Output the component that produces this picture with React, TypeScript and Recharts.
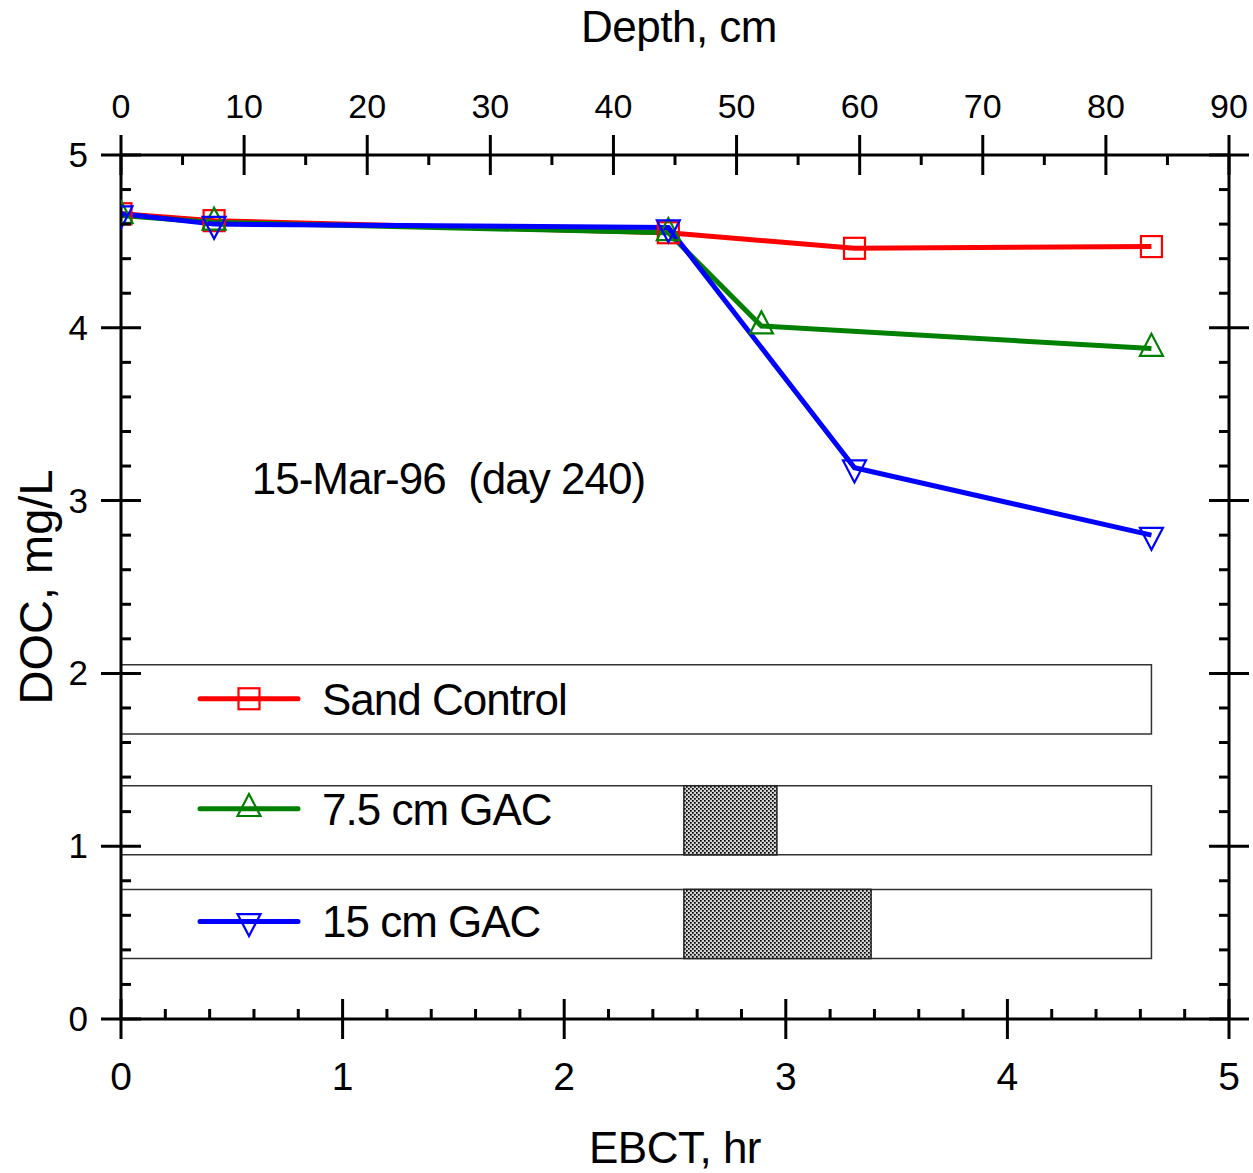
import React from 'react';
import { LineChart, Line, XAxis, YAxis, ReferenceArea, ReferenceDot } from 'recharts';

// DOC profiles along the filter columns (EBCT in hours, DOC in mg/L)
const sandEbct = [0, 0.42, 2.47, 3.31, 4.65];
const sandDoc = [4.66, 4.62, 4.55, 4.46, 4.47];
const gac75Ebct = [0, 0.42, 2.47, 2.89, 4.65];
const gac75Doc = [4.65, 4.61, 4.55, 4.01, 3.88];
const gac15Ebct = [0, 0.42, 2.47, 3.31, 4.65];
const gac15Doc = [4.66, 4.6, 4.58, 3.19, 2.8];

// Axis ticks
const ebctMajorTicks = [0, 1, 2, 3, 4, 5];
const ebctMinorStep = 0.2;
const depthMajorTicks = [0, 10, 20, 30, 40, 50, 60, 70, 80, 90];
const depthMinorStep = 5;
const docMajorTicks = [0, 1, 2, 3, 4, 5];
const docMinorStep = 0.2;

// Column diagram boxes (EBCT span, DOC span) and GAC layer spans
const columnNames = ['Sand Control', '7.5 cm GAC', '15 cm GAC'];
const columnBoxEbct = [0, 4.65];
const columnBoxDoc = [
  [1.65, 2.05],
  [0.95, 1.35],
  [0.35, 0.75],
];
const gacLayerEbct = [null, [2.54, 2.96], [2.54, 3.385]];

const noteText = '15-Mar-96  (day 240)';
const noteAt = { ebct: 0.59, doc: 3.04 };

const FONT = '"Liberation Sans", Arial, sans-serif';
const COLORS = ['#ff0000', '#008000', '#0000ff'];
const SHAPES = ['square', 'up', 'down'];

const toRows = (xs: number[], ys: number[]) => xs.map((x, i) => ({ ebct: x, doc: ys[i] }));
const sandRows = toRows(sandEbct, sandDoc);
const gac75Rows = toRows(gac75Ebct, gac75Doc);
const gac15Rows = toRows(gac15Ebct, gac15Doc);
// depth scale carrier for the top axis (no plotted values)
const depthRows = depthMajorTicks.map((d) => ({ depth: d }));

const withMinor = (max: number, step: number) => {
  const out: number[] = [];
  for (let k = 0; k * step <= max + 1e-9; k++) out.push(+(k * step).toFixed(4));
  return out;
};
const ebctTicks = withMinor(5, ebctMinorStep);
const depthTicks = withMinor(90, depthMinorStep);
const docTicks = withMinor(5, docMinorStep);

const isMajor = (majors: number[], v: number) => majors.some((m) => Math.abs(m - v) < 1e-6);

function Marker({ shape, cx, cy, color }: { shape: string; cx: number; cy: number; color: string }) {
  if (cx == null || cy == null) return null;
  if (shape === 'square') {
    return <rect x={cx - 10.5} y={cy - 10.5} width={21} height={21} fill="none" stroke={color} strokeWidth={2.2} />;
  }
  const w = 11.5;
  const up = shape === 'up';
  const apex = up ? cy - 14.7 : cy + 14.7;
  const base = up ? cy + 7.3 : cy - 7.3;
  return (
    <polygon
      points={`${cx},${apex} ${cx - w},${base} ${cx + w},${base}`}
      fill="none"
      stroke={color}
      strokeWidth={2.2}
      strokeLinejoin="miter"
    />
  );
}

const dotFor = (i: number) => (props: any) => (
  <Marker key={`m-${i}-${props.index}`} shape={SHAPES[i]} cx={props.cx} cy={props.cy} color={COLORS[i]} />
);

const tickStroke = { stroke: '#000', strokeWidth: 3 };

const BottomTick = (props: any) => {
  const { x, y, payload } = props;
  const v = payload.value;
  if (!isMajor(ebctMajorTicks, v)) {
    return <line x1={x} x2={x} y1={y} y2={y - 10} {...tickStroke} />;
  }
  return (
    <g>
      <line x1={x} x2={x} y1={y - 20} y2={y + 20} {...tickStroke} />
      <text x={x} y={y + 71} textAnchor="middle" fontSize={39} fontFamily={FONT} fill="#000">
        {v}
      </text>
    </g>
  );
};

const TopTick = (props: any) => {
  const { x, y, payload } = props;
  const v = payload.value;
  if (!isMajor(depthMajorTicks, v)) {
    return <line x1={x} x2={x} y1={y} y2={y + 10} {...tickStroke} />;
  }
  return (
    <g>
      <line x1={x} x2={x} y1={y - 20} y2={y + 20} {...tickStroke} />
      <text x={x} y={y - 37} textAnchor="middle" fontSize={34} fontFamily={FONT} fill="#000">
        {v}
      </text>
    </g>
  );
};

const LeftTick = (props: any) => {
  const { x, y, payload } = props;
  const v = payload.value;
  if (!isMajor(docMajorTicks, v)) {
    return <line x1={x} x2={x + 10} y1={y} y2={y} {...tickStroke} />;
  }
  return (
    <g>
      <line x1={x - 20} x2={x + 20} y1={y} y2={y} {...tickStroke} />
      <text x={x - 33} y={y + 12} textAnchor="end" fontSize={35} fontFamily={FONT} fill="#000">
        {v}
      </text>
    </g>
  );
};

const RightTick = (props: any) => {
  const { x, y, payload } = props;
  const v = payload.value;
  if (!isMajor(docMajorTicks, v)) {
    return <line x1={x} x2={x - 10} y1={y} y2={y} {...tickStroke} />;
  }
  return <line x1={x - 20} x2={x + 20} y1={y} y2={y} {...tickStroke} />;
};

// legend entry drawn inside each column box; offset of the key line from the box top
const legendLineOffset = [34, 23, 32];

const legendLabel = (i: number) => (props: any) => {
  const vb = props.viewBox;
  if (!vb) return null;
  const ly = vb.y + legendLineOffset[i];
  const x0 = vb.x + 79;
  return (
    <g>
      <line x1={x0} x2={x0 + 98} y1={ly} y2={ly} stroke={COLORS[i]} strokeWidth={5} strokeLinecap="round" />
      <Marker shape={SHAPES[i]} cx={x0 + 49} cy={ly} color={COLORS[i]} />
      <text x={vb.x + 201} y={ly + 16} fontSize={44} letterSpacing={-1} fontFamily={FONT} fill="#000">
        {columnNames[i]}
      </text>
    </g>
  );
};

const HatchRect = (props: any) => {
  const { x, y, width, height } = props;
  return (
    <g>
      <defs>
        <pattern id="gacHatch" width={4} height={4} patternUnits="userSpaceOnUse">
          <rect width={4} height={4} fill="#d4d4d4" />
          <rect x={0} y={0} width={1.7} height={1.7} fill="#000" />
          <rect x={2} y={2} width={1.7} height={1.7} fill="#000" />
        </pattern>
      </defs>
      <rect x={x} y={y} width={width} height={height} fill="url(#gacHatch)" stroke="#222" strokeWidth={1.5} />
    </g>
  );
};

const noteLabel = (props: any) => {
  const vb = props.viewBox;
  if (!vb) return null;
  return (
    <text x={vb.x} y={vb.y} fontSize={44} letterSpacing={-1} fontFamily={FONT} fill="#000" style={{ whiteSpace: 'pre' }}>
      {noteText}
    </text>
  );
};

export default function App() {
  return (
    <div style={{ position: 'absolute', left: 0, top: 0, background: '#fff' }}>
      <LineChart width={1253} height={1173} margin={{ top: 95, right: 4, bottom: 94, left: 61 }}>
        <XAxis
          xAxisId="ebct"
          dataKey="ebct"
          type="number"
          orientation="bottom"
          domain={[0, 5]}
          ticks={ebctTicks}
          interval={0}
          height={60}
          tickSize={0}
          tickMargin={0}
          tickLine={false}
          allowDataOverflow
          axisLine={{ stroke: '#000', strokeWidth: 3 }}
          tick={BottomTick}
          label={(p: any) => {
            const vb = p.viewBox;
            return (
              <text x={vb.x + vb.width / 2} y={vb.y + 144} textAnchor="middle" fontSize={44} letterSpacing={-0.5} fontFamily={FONT} fill="#000">
                EBCT, hr
              </text>
            );
          }}
        />
        <XAxis
          xAxisId="depth"
          dataKey="depth"
          type="number"
          orientation="top"
          domain={[0, 90]}
          ticks={depthTicks}
          interval={0}
          height={60}
          tickSize={0}
          tickMargin={0}
          tickLine={false}
          allowDataOverflow
          axisLine={{ stroke: '#000', strokeWidth: 3 }}
          tick={TopTick}
          label={(p: any) => {
            const vb = p.viewBox;
            return (
              <text x={vb.x + vb.width / 2 + 4} y={vb.y + vb.height - 113} textAnchor="middle" fontSize={44} letterSpacing={-0.5} fontFamily={FONT} fill="#000">
                Depth, cm
              </text>
            );
          }}
        />
        <YAxis
          yAxisId="doc"
          type="number"
          domain={[0, 5]}
          ticks={docTicks}
          interval={0}
          width={60}
          tickSize={0}
          tickMargin={0}
          tickLine={false}
          allowDataOverflow
          axisLine={{ stroke: '#000', strokeWidth: 3 }}
          tick={LeftTick}
          label={(p: any) => {
            const vb = p.viewBox;
            const cx = vb.x - 9;
            const cy = vb.y + vb.height / 2;
            return (
              <text x={cx} y={cy} transform={`rotate(-90 ${cx} ${cy})`} textAnchor="middle" fontSize={47} fontFamily={FONT} fill="#000">
                DOC, mg/L
              </text>
            );
          }}
        />
        <YAxis
          yAxisId="right"
          orientation="right"
          type="number"
          domain={[0, 5]}
          ticks={docTicks}
          interval={0}
          width={20}
          tickSize={0}
          tickMargin={0}
          tickLine={false}
          allowDataOverflow
          axisLine={{ stroke: '#000', strokeWidth: 3 }}
          tick={RightTick}
        />

        {columnBoxDoc.map((span, i) => (
          <ReferenceArea
            key={`box-${i}`}
            xAxisId="ebct"
            yAxisId="doc"
            x1={columnBoxEbct[0]}
            x2={columnBoxEbct[1]}
            y1={span[0]}
            y2={span[1]}
            fill="none"
            fillOpacity={0}
            stroke="#333"
            strokeWidth={1.5}
            ifOverflow="visible"
            label={legendLabel(i)}
          />
        ))}
        {gacLayerEbct.map((span, i) =>
          span ? (
            <ReferenceArea
              key={`gac-${i}`}
              xAxisId="ebct"
              yAxisId="doc"
              x1={span[0]}
              x2={span[1]}
              y1={columnBoxDoc[i][0]}
              y2={columnBoxDoc[i][1]}
              shape={HatchRect}
              ifOverflow="visible"
            />
          ) : null
        )}
        <ReferenceDot
          xAxisId="ebct"
          yAxisId="doc"
          x={noteAt.ebct}
          y={noteAt.doc}
          r={0}
          fill="none"
          stroke="none"
          ifOverflow="visible"
          label={noteLabel}
        />

        <Line
          data={depthRows}
          xAxisId="depth"
          yAxisId="right"
          dataKey="doc"
          stroke="none"
          dot={false}
          activeDot={false}
          legendType="none"
          isAnimationActive={false}
        />
        <Line
          data={sandRows}
          xAxisId="ebct"
          yAxisId="doc"
          dataKey="doc"
          name={columnNames[0]}
          stroke={COLORS[0]}
          strokeWidth={5}
          dot={dotFor(0)}
          activeDot={false}
          isAnimationActive={false}
        />
        <Line
          data={gac75Rows}
          xAxisId="ebct"
          yAxisId="doc"
          dataKey="doc"
          name={columnNames[1]}
          stroke={COLORS[1]}
          strokeWidth={5}
          dot={dotFor(1)}
          activeDot={false}
          isAnimationActive={false}
        />
        <Line
          data={gac15Rows}
          xAxisId="ebct"
          yAxisId="doc"
          dataKey="doc"
          name={columnNames[2]}
          stroke={COLORS[2]}
          strokeWidth={5}
          dot={dotFor(2)}
          activeDot={false}
          isAnimationActive={false}
        />
      </LineChart>
    </div>
  );
}
